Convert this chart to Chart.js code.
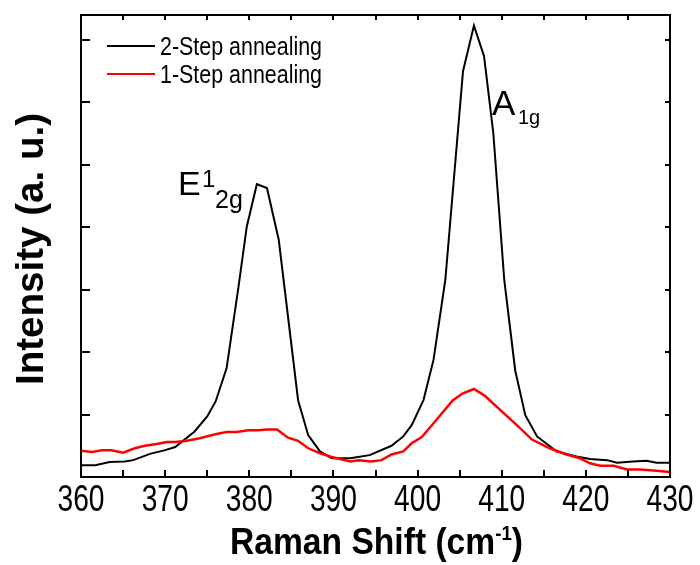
<!DOCTYPE html>
<html>
<head>
<meta charset="utf-8">
<script src="https://cdn.jsdelivr.net/npm/chart.js@4.4.1/dist/chart.umd.min.js"></script>
<style>
  html, body { margin: 0; padding: 0; background: #fff; }
</style>
</head>
<body>
<canvas id="raman" width="700" height="565"></canvas>
<script>
// Raman spectra (shift in cm-1, intensity in a. u.)
const shift2 = [360, 361.7, 363.4, 365.2, 366.2, 368.2, 370, 371.2, 373.5, 375, 376, 377.3, 378.7, 379.7, 380.9,
  382.1, 383.5, 385.8, 387, 388.4, 389.8, 392, 394.3, 396.9, 398.3, 399.3, 400.7, 401.9, 403.3, 405.4,
  406.7, 407.9, 409, 410.3, 411.6, 412.8, 414.2, 416.5, 418.9, 420.5, 422.5, 423.7, 425.6, 427.2, 428.4, 430];
const int2 = [0.19, 0.19, 0.24, 0.25, 0.27, 0.37, 0.43, 0.48, 0.73, 0.97, 1.21, 1.74, 3.03, 4.01, 4.69,
  4.63, 3.80, 1.23, 0.67, 0.41, 0.30, 0.30, 0.35, 0.50, 0.65, 0.83, 1.23, 1.88, 3.16, 6.50,
  7.23, 6.74, 5.51, 3.16, 1.71, 0.99, 0.65, 0.41, 0.33, 0.29, 0.27, 0.23, 0.25, 0.26, 0.23, 0.23];

const shift1 = [360, 361.3, 362.5, 363.6, 365, 366.4, 367.6, 369, 370.2, 371.2, 372.6, 374.1, 376.1, 377.3, 378.5,
  379.9, 381.1, 382.1, 383.3, 384.6, 385.8, 387, 388.4, 389.8, 392, 393, 394.5, 395.7, 396.9, 398.3,
  399.3, 400.5, 401.9, 404.2, 405.4, 406.7, 408, 410, 411.8, 413.6, 415.7, 417.7, 419.3, 420.5, 421.7,
  423.3, 424.9, 426.4, 428.4, 430];
const int1 = [0.42, 0.40, 0.43, 0.43, 0.39, 0.46, 0.50, 0.53, 0.56, 0.56, 0.58, 0.62, 0.69, 0.72, 0.72,
  0.75, 0.75, 0.76, 0.76, 0.63, 0.58, 0.46, 0.38, 0.32, 0.25, 0.27, 0.25, 0.27, 0.36, 0.41,
  0.54, 0.64, 0.86, 1.23, 1.34, 1.41, 1.30, 1.05, 0.83, 0.60, 0.46, 0.36, 0.30, 0.22, 0.18,
  0.18, 0.12, 0.12, 0.10, 0.08];

const seriesNames = ['2-Step annealing', '1-Step annealing'];
const xTicks = [360, 370, 380, 390, 400, 410, 420, 430];
const xMinorTicks = [365, 375, 385, 395, 405, 415, 425];
const yTicks = [1, 2, 3, 4, 5, 6, 7];

const SANS = "'Liberation Sans', Arial, sans-serif";

function pairs(xs, ys) {
  return xs.map((v, i) => ({ x: v, y: ys[i] }));
}

// text squeezed horizontally so it takes the given width
function squeeze(ctx, str, x, y, width) {
  const w = ctx.measureText(str).width;
  ctx.save();
  ctx.translate(x, y);
  ctx.scale(width / w, 1);
  ctx.fillText(str, 0, 0);
  ctx.restore();
}

// frame, inward ticks, tick labels, legend, peak labels and axis titles
const decor = {
  id: 'decor',
  afterDraw(chart) {
    const { ctx, chartArea: a, scales: { x, y } } = chart;
    ctx.save();
    ctx.strokeStyle = '#000';
    ctx.fillStyle = '#000';
    ctx.lineWidth = 2;
    ctx.strokeRect(a.left, a.top, a.right - a.left, a.bottom - a.top);

    ctx.beginPath();
    xTicks.concat(xMinorTicks).forEach(v => {
      const px = Math.round(x.getPixelForValue(v));
      ctx.moveTo(px, a.bottom); ctx.lineTo(px, a.bottom - 7);
      ctx.moveTo(px, a.top); ctx.lineTo(px, a.top + 5);
    });
    yTicks.forEach(v => {
      const py = Math.round(y.getPixelForValue(v));
      ctx.moveTo(a.left, py); ctx.lineTo(a.left + 9, py);
      ctx.moveTo(a.right, py); ctx.lineTo(a.right - 5, py);
    });
    ctx.stroke();

    // x tick labels, narrow like the original
    ctx.font = '36px ' + SANS;
    ctx.textAlign = 'center';
    ctx.textBaseline = 'alphabetic';
    x.ticks.forEach(t => {
      squeeze(ctx, String(t.value), x.getPixelForValue(t.value), a.bottom + 34, 47);
    });
    ctx.textAlign = 'left';

    // legend
    chart.data.datasets.forEach((ds, i) => {
      const ly = 46 + i * 28;
      ctx.strokeStyle = ds.borderColor;
      ctx.beginPath();
      ctx.moveTo(107, ly); ctx.lineTo(155, ly);
      ctx.stroke();
      ctx.font = '25px ' + SANS;
      squeeze(ctx, seriesNames[i], 160, ly + 9, 162);
    });

    // peak labels
    ctx.font = '34px ' + SANS;
    ctx.fillText('E', 178, 195);
    ctx.font = '24px ' + SANS;
    ctx.fillText('1', 202, 187);
    ctx.font = '25px ' + SANS;
    ctx.fillText('2g', 215, 208);
    ctx.font = '35px ' + SANS;
    ctx.fillText('A', 492, 115);
    ctx.font = '20px ' + SANS;
    ctx.fillText('1g', 518, 124);

    // x title with superscript
    ctx.font = 'bold 36px ' + SANS;
    const t1 = 'Raman Shift (cm', t3 = ')';
    const w1 = ctx.measureText(t1).width, w3 = ctx.measureText(t3).width;
    ctx.font = 'bold 20px ' + SANS;
    const w2 = ctx.measureText('-1').width;
    const k = 293 / (w1 + w2 + w3);
    ctx.save();
    ctx.translate(230, 554);
    ctx.scale(k, 1);
    ctx.font = 'bold 36px ' + SANS;
    ctx.fillText(t1, 0, 0);
    ctx.font = 'bold 20px ' + SANS;
    ctx.fillText('-1', w1, -14);
    ctx.font = 'bold 36px ' + SANS;
    ctx.fillText(t3, w1 + w2, 0);
    ctx.restore();

    // y title
    ctx.save();
    ctx.translate(43, 385);
    ctx.rotate(-Math.PI / 2);
    ctx.font = 'bold 39px ' + SANS;
    squeeze(ctx, 'Intensity (a. u.)', 0, 0, 272);
    ctx.restore();

    ctx.restore();
  }
};

new Chart(document.getElementById('raman'), {
  type: 'line',
  data: {
    datasets: [
      {
        label: seriesNames[0],
        data: pairs(shift2, int2),
        borderColor: '#000000',
        borderWidth: 2,
        pointRadius: 0,
        tension: 0,
        order: 1
      },
      {
        label: seriesNames[1],
        data: pairs(shift1, int1),
        borderColor: '#ff0000',
        borderWidth: 2.5,
        pointRadius: 0,
        tension: 0,
        order: 0
      }
    ]
  },
  options: {
    responsive: false,
    devicePixelRatio: 1,
    animation: false,
    layout: { padding: { top: 15, right: 30, left: 0, bottom: 0 } },
    plugins: { legend: { display: false }, tooltip: { enabled: false } },
    scales: {
      x: {
        type: 'linear',
        min: 360,
        max: 430,
        afterBuildTicks: s => { s.ticks = xTicks.map(v => ({ value: v })); },
        ticks: { display: false },
        grid: { display: false, drawTicks: false },
        border: { display: true, color: '#000', width: 2 },
        afterFit: s => { s.height = 88; }
      },
      y: {
        min: 0,
        max: 7.4,
        ticks: { display: false },
        grid: { display: false, drawTicks: false },
        border: { display: true, color: '#000', width: 2 },
        afterFit: s => { s.width = 81; }
      }
    }
  },
  plugins: [decor]
});
</script>
</body>
</html>
